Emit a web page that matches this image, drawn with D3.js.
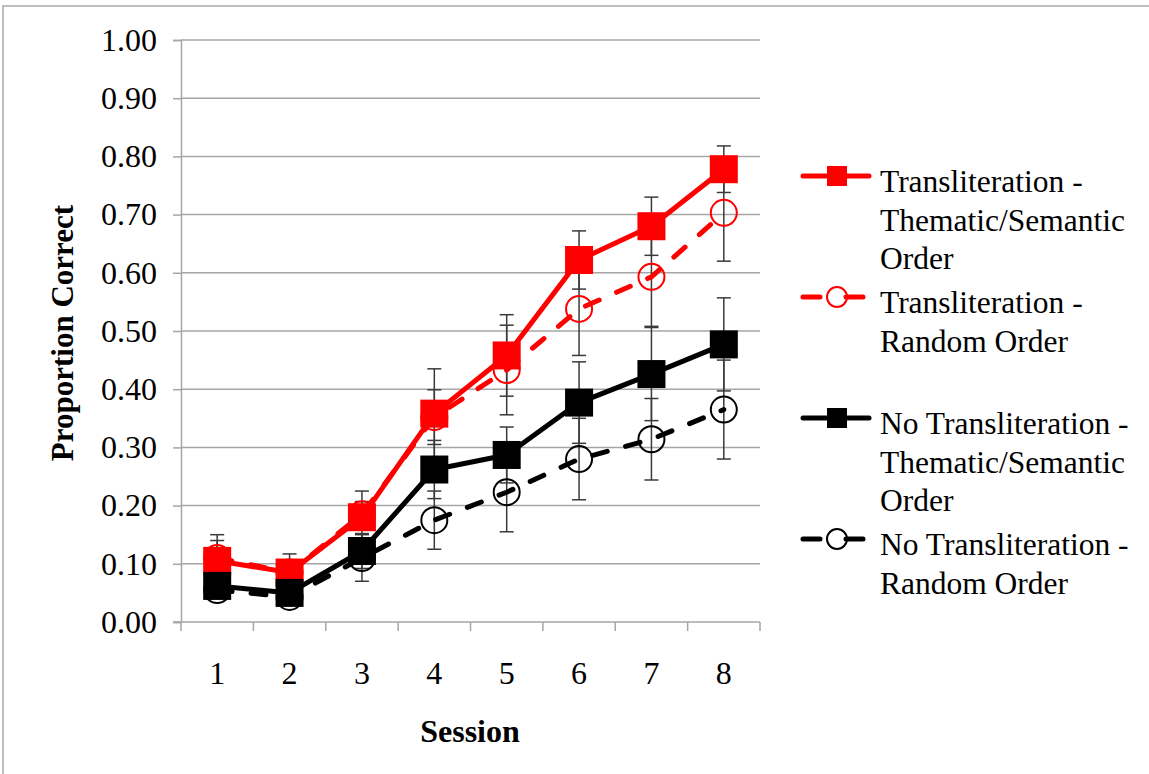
<!DOCTYPE html>
<html>
<head>
<meta charset="utf-8">
<script src="https://cdn.jsdelivr.net/npm/d3@7"></script>
<style>
  body { margin: 0; background: #fff; }
  svg { display: block; }
</style>
</head>
<body>
<script>
// session numbers on the x axis
const sessions = [1, 2, 3, 4, 5, 6, 7, 8];
const yTicks = [0, 0.1, 0.2, 0.3, 0.4, 0.5, 0.6, 0.7, 0.8, 0.9, 1.0];

// proportion correct
const translitThematic = [0.105, 0.085, 0.18, 0.358, 0.458, 0.622, 0.68, 0.778];
const translitThematicErr = [0.045, 0.032, 0.045, 0.077, 0.07, 0.05, 0.05, 0.04];
const translitRandom = [0.11, 0.085, 0.185, 0.352, 0.433, 0.538, 0.593, 0.703];
const translitRandomErr = [0.03, 0.02, 0.022, 0.047, 0.077, 0.08, 0.085, 0.083];
const noTranslitThematic = [0.062, 0.05, 0.122, 0.262, 0.287, 0.377, 0.426, 0.477];
const noTranslitThematicErr = [0.02, 0.015, 0.03, 0.05, 0.048, 0.07, 0.08, 0.08];
const noTranslitRandom = [0.055, 0.043, 0.11, 0.175, 0.223, 0.28, 0.314, 0.365];
const noTranslitRandomErr = [0.015, 0.012, 0.04, 0.05, 0.068, 0.07, 0.07, 0.085];

const legendLabels = [
    ["Transliteration -", "Thematic/Semantic", "Order"],
    ["Transliteration -", "Random Order"],
    ["No Transliteration -", "Thematic/Semantic", "Order"],
    ["No Transliteration -", "Random Order"],
];

const w = 1149;
const h = 774;
const font = "'Liberation Serif', 'Times New Roman', serif";

const series = [
    { values: translitThematic, err: translitThematicErr, color: "#ff0000", marker: "square", dashed: false },
    { values: translitRandom, err: translitRandomErr, color: "#ff0000", marker: "circle", dashed: true },
    { values: noTranslitThematic, err: noTranslitThematicErr, color: "#000000", marker: "square", dashed: false },
    { values: noTranslitRandom, err: noTranslitRandomErr, color: "#000000", marker: "circle", dashed: true },
];
series.forEach((s, i) => (s.label = legendLabels[i]));

const svg = d3
    .select("body")
    .append("svg")
    .attr("width", w)
    .attr("height", h);

// frame of the original picture (top and left edges only)
svg.append("path")
    .attr("d", `M3,${h} L3,6 L${w},6`)
    .attr("fill", "none")
    .attr("stroke", "#bdbdbd")
    .attr("stroke-width", 2);

const x = d3
    .scaleBand()
    .domain(sessions)
    .range([181, 760]);
const y = d3
    .scaleLinear()
    .domain([0, 1])
    .range([622, 40]);
const cx = d => x(d) + x.bandwidth() / 2;

// horizontal gridlines
svg.append("g")
    .selectAll("line")
    .data(yTicks.filter(t => t > 0))
    .enter()
    .append("line")
    .attr("x1", x.range()[0])
    .attr("x2", x.range()[1])
    .attr("y1", d => y(d))
    .attr("y2", d => y(d))
    .attr("stroke", "#a6a6a6")
    .attr("stroke-width", 1.5);

// y axis
const yAxis = svg
    .append("g")
    .attr("transform", `translate(${x.range()[0]},0)`)
    .call(d3.axisLeft(y).tickValues(yTicks).tickFormat(d3.format(".2f")).tickSize(8).tickPadding(16));
yAxis.select(".domain").attr("stroke", "#a6a6a6").attr("stroke-width", 1.5);
yAxis.selectAll(".tick line").attr("stroke", "#a6a6a6").attr("stroke-width", 1.5);
yAxis.selectAll(".tick text")
    .attr("font-family", font)
    .attr("font-size", 32)
    .attr("fill", "#000");

// x axis: category boundaries as ticks, labels in the middle
const xg = svg.append("g");
xg.append("line")
    .attr("x1", x.range()[0] - 8)
    .attr("x2", x.range()[1])
    .attr("y1", y(0))
    .attr("y2", y(0))
    .attr("stroke", "#a6a6a6")
    .attr("stroke-width", 1.5);
xg.selectAll(".bound")
    .data(sessions.map(s => x(s)).concat([x.range()[1]]))
    .enter()
    .append("line")
    .attr("class", "bound")
    .attr("x1", d => d)
    .attr("x2", d => d)
    .attr("y1", y(0))
    .attr("y2", y(0) + 9)
    .attr("stroke", "#a6a6a6")
    .attr("stroke-width", 1.5);
xg.selectAll("text")
    .data(sessions)
    .enter()
    .append("text")
    .attr("x", d => cx(d))
    .attr("y", 684)
    .attr("text-anchor", "middle")
    .attr("font-family", font)
    .attr("font-size", 32)
    .text(d => d);

// axis titles
svg.append("text")
    .attr("x", 470)
    .attr("y", 742)
    .attr("text-anchor", "middle")
    .attr("font-family", font)
    .attr("font-size", 32)
    .attr("font-weight", "bold")
    .text("Session");

svg.append("text")
    .attr("transform", "translate(73,333) rotate(-90)")
    .attr("text-anchor", "middle")
    .attr("font-family", font)
    .attr("font-size", 31)
    .attr("font-weight", "bold")
    .text("Proportion Correct");

// error bars, underneath the series
const errG = svg.append("g");
series.forEach(s => {
    const rows = sessions.map((d, i) => ({ s: d, v: s.values[i], e: s.err[i] }));
    const g = errG.append("g").attr("stroke", "#3a3a3a").attr("stroke-width", 1.5);
    g.selectAll(".v")
        .data(rows)
        .enter()
        .append("line")
        .attr("x1", d => cx(d.s))
        .attr("x2", d => cx(d.s))
        .attr("y1", d => y(d.v - d.e))
        .attr("y2", d => y(d.v + d.e));
    [-1, 1].forEach(sign => {
        g.selectAll(`.cap${sign}`)
            .data(rows)
            .enter()
            .append("line")
            .attr("x1", d => cx(d.s) - 7)
            .attr("x2", d => cx(d.s) + 7)
            .attr("y1", d => y(d.v + sign * d.e))
            .attr("y2", d => y(d.v + sign * d.e));
    });
});

function drawMarker(sel, s, size) {
    if (s.marker === "square") {
        sel.append("rect")
            .attr("x", -size / 2)
            .attr("y", -size / 2)
            .attr("width", size)
            .attr("height", size)
            .attr("fill", s.color);
    } else {
        sel.append("circle")
            .attr("r", size / 2 - 1)
            .attr("fill", "none")
            .attr("stroke", s.color)
            .attr("stroke-width", 2);
    }
}

const line = d3
    .line()
    .x((d, i) => cx(sessions[i]))
    .y(d => y(d));

// series: line then markers, later series on top
series.forEach(s => {
    svg.append("path")
        .attr("d", line(s.values))
        .attr("fill", "none")
        .attr("stroke", s.color)
        .attr("stroke-width", 5)
        .attr("stroke-linecap", "round")
        .attr("stroke-linejoin", "round")
        .attr("stroke-dasharray", s.dashed ? "15,19" : null);
    svg.append("g")
        .selectAll("g")
        .data(s.values)
        .enter()
        .append("g")
        .attr("transform", (d, i) => `translate(${cx(sessions[i])},${y(d)})`)
        .each(function () {
            drawMarker(d3.select(this), s, 28);
        });
});

// legend
const legendY = [176, 297, 418, 539];
const lineH = 38.5;
const legend = svg.append("g");
series.forEach((s, i) => {
    const g = legend.append("g").attr("transform", `translate(837,${legendY[i]})`);
    g.append("line")
        .attr("x1", -34)
        .attr("x2", s.dashed ? 26 : 32)
        .attr("stroke", s.color)
        .attr("stroke-width", 5)
        .attr("stroke-linecap", "round")
        .attr("stroke-dasharray", s.dashed ? "17,26" : null);
    drawMarker(g, s, s.marker === "square" ? 20 : 22);
    const t = legend.append("text")
        .attr("x", 880)
        .attr("y", legendY[i] + 16)
        .attr("font-family", font)
        .attr("font-size", 31.5)
        .attr("fill", "#000");
    t.selectAll("tspan")
        .data(s.label)
        .enter()
        .append("tspan")
        .attr("x", 880)
        .attr("dy", (d, j) => (j === 0 ? 0 : lineH))
        .text(d => d);
});
</script>
</body>
</html>
